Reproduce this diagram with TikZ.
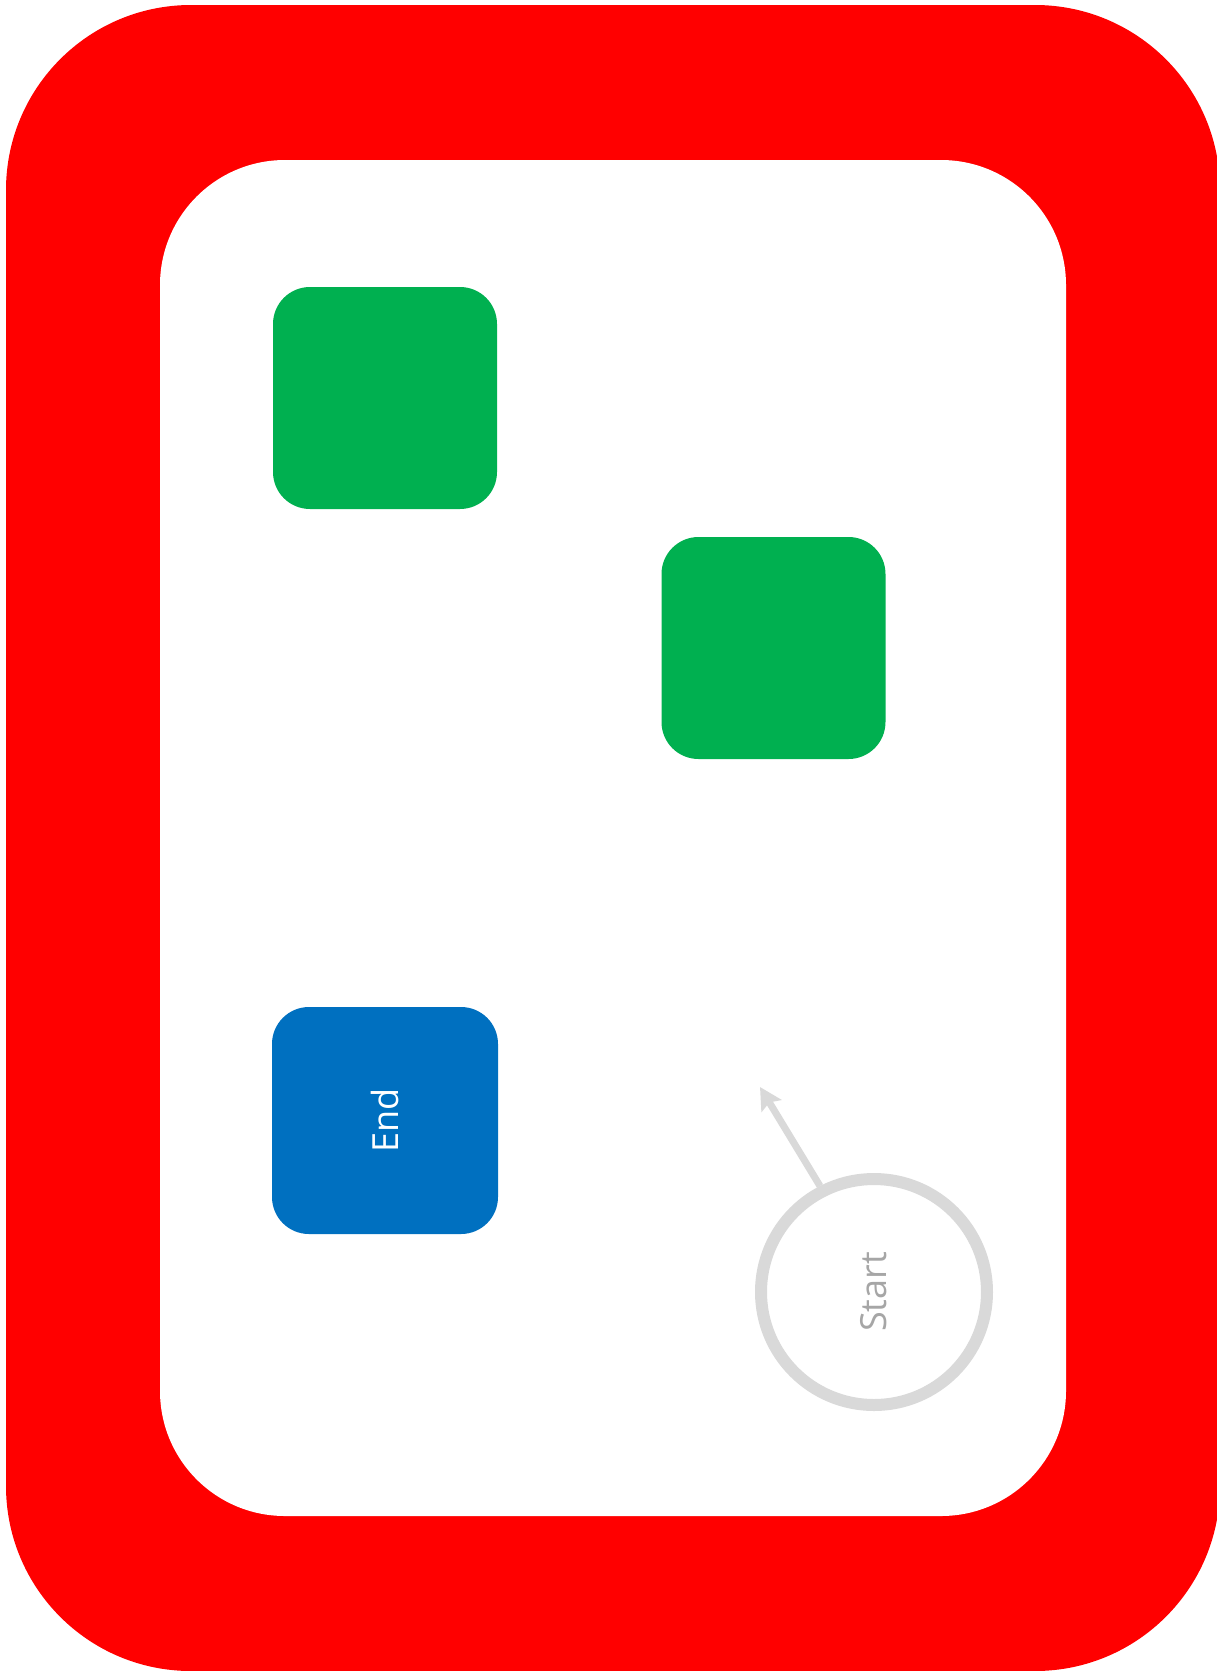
\documentclass[tikz,border=0pt]{standalone}
\usepackage{fontspec}
\setmainfont{Open Sans}
\usepackage{tikz}
\usetikzlibrary{arrows.meta}

\definecolor{framered}{HTML}{FF0000}
\definecolor{stepgreen}{HTML}{00B050}
\definecolor{endblue}{HTML}{0070C0}
\definecolor{startgray}{HTML}{D9D9D9}
\definecolor{labelgray}{HTML}{A6A6A6}

\begin{document}
\begin{tikzpicture}[
    x=1pt, y=-1pt, font=\fontsize{36}{40}\selectfont,
    stepbox/.style   ={fill=stepgreen, rectangle, rounded corners=37pt, minimum width=224pt, minimum height=222pt, inner sep=0pt},
    endbox/.style    ={fill=endblue, rectangle, rounded corners=37pt, minimum width=226pt, minimum height=227pt, inner sep=0pt, text=white},
    startmark/.style ={draw=startgray, line width=12pt, fill=white, circle, minimum size=226pt, inner sep=0pt, text=labelgray},
    flowarrow/.style ={draw=startgray, line width=7pt, -{Stealth[length=22pt, width=23pt, inset=4pt]}},
  ]
  % ---- page size and red frame ----
  \useasboundingbox (0,0) rectangle (1217,1671);
  \clip (0,0) rectangle (1217,1671);
  \fill[framered, rounded corners=185pt] (6,5) rectangle (1220,1671);
  \fill[white, rounded corners=125pt] (160,160) rectangle (1066,1516);

  % ---- boxes ----
  \node[stepbox] (stepA) at (385,398) {};
  \node[stepbox] (stepB) at (773.5,648) {};
  \node[endbox]  (finish) at (385,1120.5) {\rotatebox{90}{End}};

  % ---- start point and its arrow ----
  \node[startmark] (start) at (874,1292) {\rotatebox{90}{Start}};
  \coordinate (startarrow) at (760,1087);
  \draw[flowarrow] (start.117) -- (startarrow);
\end{tikzpicture}
\end{document}
